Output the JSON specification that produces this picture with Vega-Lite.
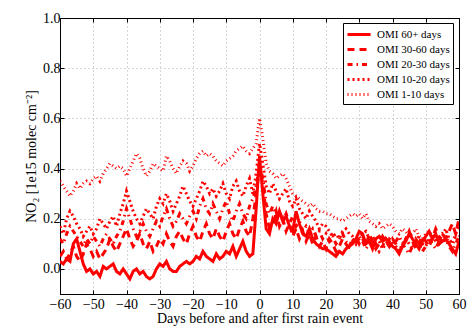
{
  "$schema": "https://vega.github.io/schema/vega-lite/v6.json",
  "width": 399,
  "height": 276,
  "autosize": "none",
  "padding": {"left": 60, "top": 18, "right": 9, "bottom": 38},
  "config": {
    "font": "Liberation Serif",
    "view": {"stroke": "black", "strokeWidth": 1},
    "axis": {"domainColor": "black", "tickColor": "black", "labelColor": "black", "titleColor": "black", "labelFont": "Liberation Serif", "titleFont": "Liberation Serif", "titleFontWeight": "normal"},
    "legend": {"labelFont": "Liberation Serif"},
    "style": {"guide-label": {"font": "Liberation Serif"}, "guide-title": {"font": "Liberation Serif"}}
  },
  "data": {"values": [
    {"d":-60,"a":0.03,"b":0.05,"c":0.12,"e":0.17,"f":0.35},
    {"d":-59,"a":0.02,"b":0.07,"c":0.10,"e":0.14,"f":0.33},
    {"d":-58,"a":0.04,"b":0.04,"c":0.14,"e":0.20,"f":0.31},
    {"d":-57,"a":0.03,"b":0.06,"c":0.17,"e":0.23,"f":0.29},
    {"d":-56,"a":0.10,"b":0.09,"c":0.15,"e":0.21,"f":0.31},
    {"d":-55,"a":0.12,"b":0.05,"c":0.13,"e":0.18,"f":0.34},
    {"d":-54,"a":0.07,"b":0.03,"c":0.11,"e":0.16,"f":0.32},
    {"d":-53,"a":0.02,"b":0.06,"c":0.09,"e":0.13,"f":0.34},
    {"d":-52,"a":-0.01,"b":0.10,"c":0.12,"e":0.15,"f":0.35},
    {"d":-51,"a":0.00,"b":0.08,"c":0.10,"e":0.17,"f":0.34},
    {"d":-50,"a":-0.02,"b":0.05,"c":0.13,"e":0.14,"f":0.36},
    {"d":-49,"a":-0.01,"b":0.07,"c":0.11,"e":0.16,"f":0.37},
    {"d":-48,"a":-0.03,"b":0.04,"c":0.09,"e":0.20,"f":0.35},
    {"d":-47,"a":0.01,"b":0.06,"c":0.12,"e":0.18,"f":0.38},
    {"d":-46,"a":0.00,"b":0.08,"c":0.14,"e":0.16,"f":0.40},
    {"d":-45,"a":0.01,"b":0.12,"c":0.12,"e":0.19,"f":0.42},
    {"d":-44,"a":0.02,"b":0.09,"c":0.10,"e":0.21,"f":0.41},
    {"d":-43,"a":-0.01,"b":0.07,"c":0.13,"e":0.17,"f":0.40},
    {"d":-42,"a":-0.02,"b":0.10,"c":0.15,"e":0.22,"f":0.41},
    {"d":-41,"a":0.00,"b":0.13,"c":0.19,"e":0.26,"f":0.40},
    {"d":-40,"a":-0.02,"b":0.16,"c":0.24,"e":0.31,"f":0.37},
    {"d":-39,"a":-0.04,"b":0.12,"c":0.20,"e":0.27,"f":0.40},
    {"d":-38,"a":-0.01,"b":0.09,"c":0.16,"e":0.23,"f":0.43},
    {"d":-37,"a":0.00,"b":0.11,"c":0.13,"e":0.20,"f":0.46},
    {"d":-36,"a":-0.02,"b":0.14,"c":0.15,"e":0.18,"f":0.44},
    {"d":-35,"a":-0.01,"b":0.10,"c":0.18,"e":0.21,"f":0.40},
    {"d":-34,"a":-0.03,"b":0.08,"c":0.15,"e":0.24,"f":0.37},
    {"d":-33,"a":-0.04,"b":0.11,"c":0.13,"e":0.22,"f":0.39},
    {"d":-32,"a":-0.03,"b":0.07,"c":0.16,"e":0.20,"f":0.42},
    {"d":-31,"a":0.00,"b":0.09,"c":0.19,"e":0.25,"f":0.41},
    {"d":-30,"a":0.02,"b":0.12,"c":0.17,"e":0.28,"f":0.40},
    {"d":-29,"a":0.01,"b":0.10,"c":0.21,"e":0.26,"f":0.39},
    {"d":-28,"a":0.03,"b":0.14,"c":0.24,"e":0.30,"f":0.45},
    {"d":-27,"a":0.00,"b":0.11,"c":0.20,"e":0.27,"f":0.43},
    {"d":-26,"a":-0.01,"b":0.09,"c":0.17,"e":0.23,"f":0.40},
    {"d":-25,"a":-0.01,"b":0.13,"c":0.19,"e":0.26,"f":0.38},
    {"d":-24,"a":0.01,"b":0.15,"c":0.22,"e":0.29,"f":0.41},
    {"d":-23,"a":0.02,"b":0.12,"c":0.20,"e":0.33,"f":0.43},
    {"d":-22,"a":0.03,"b":0.10,"c":0.18,"e":0.30,"f":0.42},
    {"d":-21,"a":0.02,"b":0.14,"c":0.21,"e":0.27,"f":0.39},
    {"d":-20,"a":0.03,"b":0.17,"c":0.23,"e":0.25,"f":0.41},
    {"d":-19,"a":0.05,"b":0.13,"c":0.20,"e":0.28,"f":0.44},
    {"d":-18,"a":0.04,"b":0.11,"c":0.25,"e":0.31,"f":0.46},
    {"d":-17,"a":0.07,"b":0.15,"c":0.28,"e":0.35,"f":0.47},
    {"d":-16,"a":0.05,"b":0.18,"c":0.24,"e":0.33,"f":0.45},
    {"d":-15,"a":0.04,"b":0.14,"c":0.22,"e":0.30,"f":0.46},
    {"d":-14,"a":0.03,"b":0.12,"c":0.26,"e":0.32,"f":0.45},
    {"d":-13,"a":0.06,"b":0.16,"c":0.23,"e":0.29,"f":0.43},
    {"d":-12,"a":0.04,"b":0.13,"c":0.20,"e":0.31,"f":0.42},
    {"d":-11,"a":0.05,"b":0.11,"c":0.24,"e":0.34,"f":0.41},
    {"d":-10,"a":0.07,"b":0.15,"c":0.27,"e":0.30,"f":0.43},
    {"d":-9,"a":0.06,"b":0.18,"c":0.22,"e":0.28,"f":0.44},
    {"d":-8,"a":0.09,"b":0.14,"c":0.19,"e":0.33,"f":0.45},
    {"d":-7,"a":0.05,"b":0.12,"c":0.23,"e":0.35,"f":0.47},
    {"d":-6,"a":0.08,"b":0.16,"c":0.26,"e":0.31,"f":0.48},
    {"d":-5,"a":0.11,"b":0.19,"c":0.22,"e":0.29,"f":0.49},
    {"d":-4,"a":0.07,"b":0.15,"c":0.20,"e":0.33,"f":0.47},
    {"d":-3,"a":0.05,"b":0.13,"c":0.25,"e":0.36,"f":0.46},
    {"d":-2,"a":0.06,"b":0.20,"c":0.28,"e":0.30,"f":0.48},
    {"d":-1,"a":0.24,"b":0.30,"c":0.33,"e":0.38,"f":0.50},
    {"d":0,"a":0.45,"b":0.40,"c":0.42,"e":0.50,"f":0.60},
    {"d":1,"a":0.30,"b":0.34,"c":0.36,"e":0.42,"f":0.52},
    {"d":2,"a":0.16,"b":0.22,"c":0.26,"e":0.33,"f":0.42},
    {"d":3,"a":0.14,"b":0.16,"c":0.22,"e":0.30,"f":0.39},
    {"d":4,"a":0.20,"b":0.19,"c":0.25,"e":0.34,"f":0.38},
    {"d":5,"a":0.18,"b":0.23,"c":0.20,"e":0.31,"f":0.36},
    {"d":6,"a":0.23,"b":0.17,"c":0.23,"e":0.28,"f":0.37},
    {"d":7,"a":0.19,"b":0.20,"c":0.19,"e":0.30,"f":0.38},
    {"d":8,"a":0.21,"b":0.15,"c":0.22,"e":0.32,"f":0.36},
    {"d":9,"a":0.17,"b":0.18,"c":0.18,"e":0.27,"f":0.33},
    {"d":10,"a":0.15,"b":0.13,"c":0.21,"e":0.25,"f":0.30},
    {"d":11,"a":0.23,"b":0.16,"c":0.17,"e":0.28,"f":0.29},
    {"d":12,"a":0.18,"b":0.12,"c":0.19,"e":0.24,"f":0.28},
    {"d":13,"a":0.14,"b":0.15,"c":0.15,"e":0.22,"f":0.27},
    {"d":14,"a":0.13,"b":0.11,"c":0.17,"e":0.20,"f":0.26},
    {"d":15,"a":0.16,"b":0.14,"c":0.14,"e":0.23,"f":0.25},
    {"d":16,"a":0.12,"b":0.10,"c":0.16,"e":0.21,"f":0.26},
    {"d":17,"a":0.10,"b":0.13,"c":0.13,"e":0.19,"f":0.24},
    {"d":18,"a":0.09,"b":0.09,"c":0.15,"e":0.16,"f":0.23},
    {"d":19,"a":0.08,"b":0.11,"c":0.12,"e":0.18,"f":0.23},
    {"d":20,"a":0.08,"b":0.08,"c":0.14,"e":0.17,"f":0.22},
    {"d":21,"a":0.07,"b":0.12,"c":0.11,"e":0.15,"f":0.22},
    {"d":22,"a":0.06,"b":0.10,"c":0.13,"e":0.13,"f":0.21},
    {"d":23,"a":0.05,"b":0.07,"c":0.10,"e":0.14,"f":0.20},
    {"d":24,"a":0.07,"b":0.09,"c":0.12,"e":0.12,"f":0.20},
    {"d":25,"a":0.06,"b":0.12,"c":0.14,"e":0.15,"f":0.19},
    {"d":26,"a":0.08,"b":0.10,"c":0.11,"e":0.16,"f":0.20},
    {"d":27,"a":0.09,"b":0.08,"c":0.09,"e":0.14,"f":0.21},
    {"d":28,"a":0.10,"b":0.11,"c":0.12,"e":0.13,"f":0.22},
    {"d":29,"a":0.12,"b":0.13,"c":0.10,"e":0.11,"f":0.21},
    {"d":30,"a":0.15,"b":0.10,"c":0.13,"e":0.12,"f":0.22},
    {"d":31,"a":0.14,"b":0.12,"c":0.11,"e":0.14,"f":0.20},
    {"d":32,"a":0.10,"b":0.09,"c":0.08,"e":0.15,"f":0.22},
    {"d":33,"a":0.11,"b":0.14,"c":0.10,"e":0.12,"f":0.19},
    {"d":34,"a":0.08,"b":0.11,"c":0.13,"e":0.10,"f":0.18},
    {"d":35,"a":0.12,"b":0.08,"c":0.10,"e":0.13,"f":0.17},
    {"d":36,"a":0.13,"b":0.10,"c":0.07,"e":0.11,"f":0.18},
    {"d":37,"a":0.11,"b":0.13,"c":0.09,"e":0.08,"f":0.16},
    {"d":38,"a":0.12,"b":0.11,"c":0.12,"e":0.10,"f":0.17},
    {"d":39,"a":0.11,"b":0.09,"c":0.10,"e":0.12,"f":0.18},
    {"d":40,"a":0.09,"b":0.12,"c":0.08,"e":0.11,"f":0.17},
    {"d":41,"a":0.08,"b":0.10,"c":0.11,"e":0.09,"f":0.15},
    {"d":42,"a":0.06,"b":0.07,"c":0.13,"e":0.07,"f":0.14},
    {"d":43,"a":0.09,"b":0.09,"c":0.10,"e":0.10,"f":0.16},
    {"d":44,"a":0.11,"b":0.12,"c":0.08,"e":0.12,"f":0.15},
    {"d":45,"a":0.14,"b":0.15,"c":0.06,"e":0.10,"f":0.13},
    {"d":46,"a":0.12,"b":0.11,"c":0.09,"e":0.08,"f":0.14},
    {"d":47,"a":0.10,"b":0.08,"c":0.12,"e":0.11,"f":0.16},
    {"d":48,"a":0.08,"b":0.10,"c":0.10,"e":0.13,"f":0.13},
    {"d":49,"a":0.11,"b":0.13,"c":0.07,"e":0.10,"f":0.12},
    {"d":50,"a":0.13,"b":0.11,"c":0.09,"e":0.09,"f":0.14},
    {"d":51,"a":0.15,"b":0.09,"c":0.12,"e":0.12,"f":0.15},
    {"d":52,"a":0.12,"b":0.12,"c":0.10,"e":0.14,"f":0.13},
    {"d":53,"a":0.14,"b":0.16,"c":0.08,"e":0.11,"f":0.11},
    {"d":54,"a":0.10,"b":0.13,"c":0.11,"e":0.10,"f":0.12},
    {"d":55,"a":0.11,"b":0.10,"c":0.14,"e":0.13,"f":0.14},
    {"d":56,"a":0.12,"b":0.12,"c":0.12,"e":0.16,"f":0.13},
    {"d":57,"a":0.10,"b":0.15,"c":0.09,"e":0.12,"f":0.11},
    {"d":58,"a":0.08,"b":0.18,"c":0.07,"e":0.10,"f":0.10},
    {"d":59,"a":0.06,"b":0.14,"c":0.10,"e":0.14,"f":0.12},
    {"d":60,"a":0.11,"b":0.20,"c":0.13,"e":0.17,"f":0.13}
  ]},
  "transform": [{"fold": ["a", "b", "c", "e", "f"], "as": ["s", "v"]}],
  "layer": [
    {
      "mark": {"type": "line", "stroke": "#ff0000", "clip": true},
      "encoding": {
        "x": {"field": "d", "type": "quantitative",
          "scale": {"domain": [-60, 60], "nice": false},
          "axis": {"orient": "bottom", "values": [-60,-50,-40,-30,-20,-10,0,10,20,30,40,50,60],
            "grid": true, "gridDash": [1, 3], "gridColor": "#aaaaaa", "gridWidth": 1,
            "tickSize": -4, "labelFontSize": 14, "labelPadding": 7, "labelFlush": false,
            "title": "Days before and after first rain event", "titleFontSize": 14, "titlePadding": 0}},
        "y": {"field": "v", "type": "quantitative",
          "scale": {"domain": [-0.1, 1.0], "nice": false, "zero": false},
          "axis": {"orient": "left", "values": [0, 0.2, 0.4, 0.6, 0.8, 1.0], "format": ".1f",
            "grid": true, "gridDash": [1, 3], "gridColor": "#aaaaaa", "gridWidth": 1,
            "tickSize": -4, "labelFontSize": 14, "labelPadding": 4, "labelFlush": false,
            "title": "NO₂ [1e15 molec cm⁻²]", "titleFontSize": 14, "titlePadding": 4}},
        "strokeDash": {"field": "s", "type": "ordinal",
          "scale": {"domain": ["a", "b", "c", "e", "f"], "range": [[1, 0], [7, 5], [5, 4, 1.5, 4], [2, 3], [1, 3]]},
          "legend": {"title": null, "orient": "none", "legendX": 283, "legendY": 5,
            "symbolType": "M-1,0H2.3", "symbolSize": 196, "symbolStrokeColor": "#ff0000", "symbolFillColor": "transparent",
            "labelFont": "Liberation Serif", "labelFontSize": 11, "labelColor": "black", "labelOffset": 14,
            "labelExpr": "datum.label == 'a' ? 'OMI 60+ days' : datum.label == 'b' ? 'OMI 30-60 days' : datum.label == 'c' ? 'OMI 20-30 days' : datum.label == 'e' ? 'OMI 10-20 days' : 'OMI 1-10 days'",
            "strokeColor": "black", "fillColor": "white", "padding": 3, "rowPadding": 0, "cornerRadius": 0}},
        "strokeWidth": {"field": "s", "type": "ordinal",
          "scale": {"domain": ["a", "b", "c", "e", "f"], "range": [3, 3, 3, 2.2, 1.2]},
          "legend": {"title": null, "orient": "none", "legendX": 283, "legendY": 5,
            "symbolType": "M-1,0H2.3", "symbolSize": 196, "symbolStrokeColor": "#ff0000", "symbolFillColor": "transparent",
            "labelFont": "Liberation Serif", "labelFontSize": 11, "labelColor": "black", "labelOffset": 14,
            "labelExpr": "datum.label == 'a' ? 'OMI 60+ days' : datum.label == 'b' ? 'OMI 30-60 days' : datum.label == 'c' ? 'OMI 20-30 days' : datum.label == 'e' ? 'OMI 10-20 days' : 'OMI 1-10 days'",
            "strokeColor": "black", "fillColor": "white", "padding": 3, "rowPadding": 0, "cornerRadius": 0}}
      }
    },
    {
      "mark": {"type": "point", "opacity": 0},
      "encoding": {
        "x": {"field": "d", "type": "quantitative",
          "axis": {"orient": "top", "values": [-60,-50,-40,-30,-20,-10,0,10,20,30,40,50,60],
            "labels": false, "grid": false, "tickSize": -4, "title": null}},
        "y": {"field": "v", "type": "quantitative",
          "axis": {"orient": "right", "values": [0, 0.2, 0.4, 0.6, 0.8, 1.0],
            "labels": false, "grid": false, "tickSize": -4, "title": null}}
      }
    }
  ],
  "resolve": {"axis": {"x": "independent", "y": "independent"}}
}
